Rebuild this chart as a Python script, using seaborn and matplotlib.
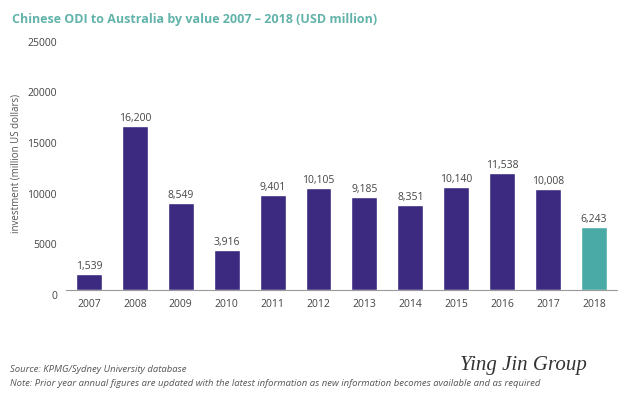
import matplotlib
matplotlib.use("Agg")
import matplotlib.pyplot as plt
import matplotlib.transforms as mtransforms
import seaborn as sns
import pandas as pd

years = ["2007", "2008", "2009", "2010", "2011", "2012", "2013", "2014", "2015", "2016", "2017", "2018"]
values = [1539, 16200, 8549, 3916, 9401, 10105, 9185, 8351, 10140, 11538, 10008, 6243]
value_labels = ["1,539", "16,200", "8,549", "3,916", "9,401", "10,105", "9,185", "8,351", "10,140", "11,538", "10,008", "6,243"]

df = pd.DataFrame({"year": years, "value": values})
palette = ["#3b2a80"] * 11 + ["#4aaba6"]

sns.set_style("white")
plt.rcParams["font.family"] = ["Open Sans", "DejaVu Sans"]

fig = plt.figure(figsize=(6.22, 3.96), dpi=100)
ax = fig.add_axes([0.106, 0.268, 0.886, 0.639])
sns.barplot(data=df, x="year", y="value", hue="year", palette=palette, legend=False,
            width=0.565, ax=ax, saturation=1)

for i, (v, lab) in enumerate(zip(values, value_labels)):
    ax.text(i, v + 200, lab, ha="center", va="bottom", fontsize=7.5, color="#444444")

ax.set_ylim(0, 25000)
ax.set_yticks(range(0, 25001, 5000))
ax.set_xlim(-0.5, 11.5)
ax.tick_params(axis="both", labelsize=7.5, colors="#444444", length=0)
ax.tick_params(axis="y", pad=6.5)
ax.tick_params(axis="x", pad=6.5)
# tick labels sit a little below their values in the original
shift = mtransforms.ScaledTranslation(0, -5 / 100, fig.dpi_scale_trans)
for lbl in ax.get_yticklabels():
    lbl.set_transform(lbl.get_transform() + shift)
for s in ["top", "right", "left"]:
    ax.spines[s].set_visible(False)
ax.spines["bottom"].set_color("#999999")
ax.spines["bottom"].set_linewidth(0.8)
ax.set_xlabel("")
ax.set_ylabel("investment (million US dollars)", fontsize=7, color="#555555")
ax.yaxis.set_label_coords(-0.08, 0.5)

fig.text(0.019, 0.952, "Chinese ODI to Australia by value 2007 \u2013 2018 (USD million)",
         fontsize=9, fontweight="bold", color="#62b3aa", va="center")
fig.text(0.016, 0.068, "Source: KPMG/Sydney University database", fontsize=6.8,
         style="italic", color="#555555", va="center")
fig.text(0.016, 0.032, "Note: Prior year annual figures are updated with the latest information as new information becomes available and as required",
         fontsize=6.8, style="italic", color="#555555", va="center")
fig.text(0.74, 0.078, "Ying Jin Group", fontsize=15, style="italic",
         family=["Liberation Serif", "DejaVu Serif"], color="#333333", va="center")

fig.savefig("out.png", dpi=100)
